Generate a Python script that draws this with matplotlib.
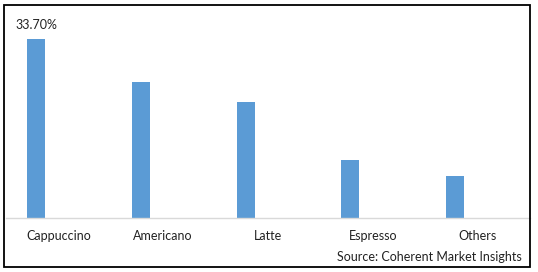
import numpy as np
import matplotlib
matplotlib.use("Agg")
import matplotlib.pyplot as plt
from matplotlib.patches import Rectangle

categories = ["Cappuccino", "Americano", "Latte", "Espresso", "Others"]
shares = [33.7, 25.6, 21.8, 10.9, 7.9]
top_label = "33.70%"
source_text = "Source: Coherent Market Insights"

W, H = 538, 272
fig = plt.figure(figsize=(W / 100, H / 100), dpi=100)
plt.rcParams["font.family"] = ["Lato", "DejaVu Sans"]

# axes spans the plot area, baseline at y=218px
ax = fig.add_axes([6 / W, 54 / H, 524 / W, 212.5 / H])
x = np.arange(len(categories))
ax.bar(x - 0.214, shares, width=0.172, color="#5B9BD5")
ax.set_xlim(-0.5, len(categories) - 0.5)
ax.set_ylim(0, 40)

ax.set_xticks(x)
ax.set_xticklabels(categories, fontsize=9, color="#222222")
ax.tick_params(axis="x", length=0, pad=9)
ax.set_yticks([])
for side in ["top", "left", "right"]:
    ax.spines[side].set_visible(False)
ax.spines["bottom"].set_color("#d9d9d9")
ax.spines["bottom"].set_linewidth(1)

ax.annotate(top_label, (x[0] - 0.214, shares[0]), xytext=(0, 10),
            textcoords="offset points", ha="center", va="center",
            fontsize=9, color="#222222")

fig.text(522 / W, 1 - 257 / H, source_text, ha="right", va="center",
         fontsize=9, color="#222222")

fig.patches.append(Rectangle((4 / W, 5 / H), 526 / W, 262 / H, fill=False,
                             edgecolor="black", linewidth=1.3,
                             transform=fig.transFigure, figure=fig))

fig.savefig("out.png", dpi=100)
